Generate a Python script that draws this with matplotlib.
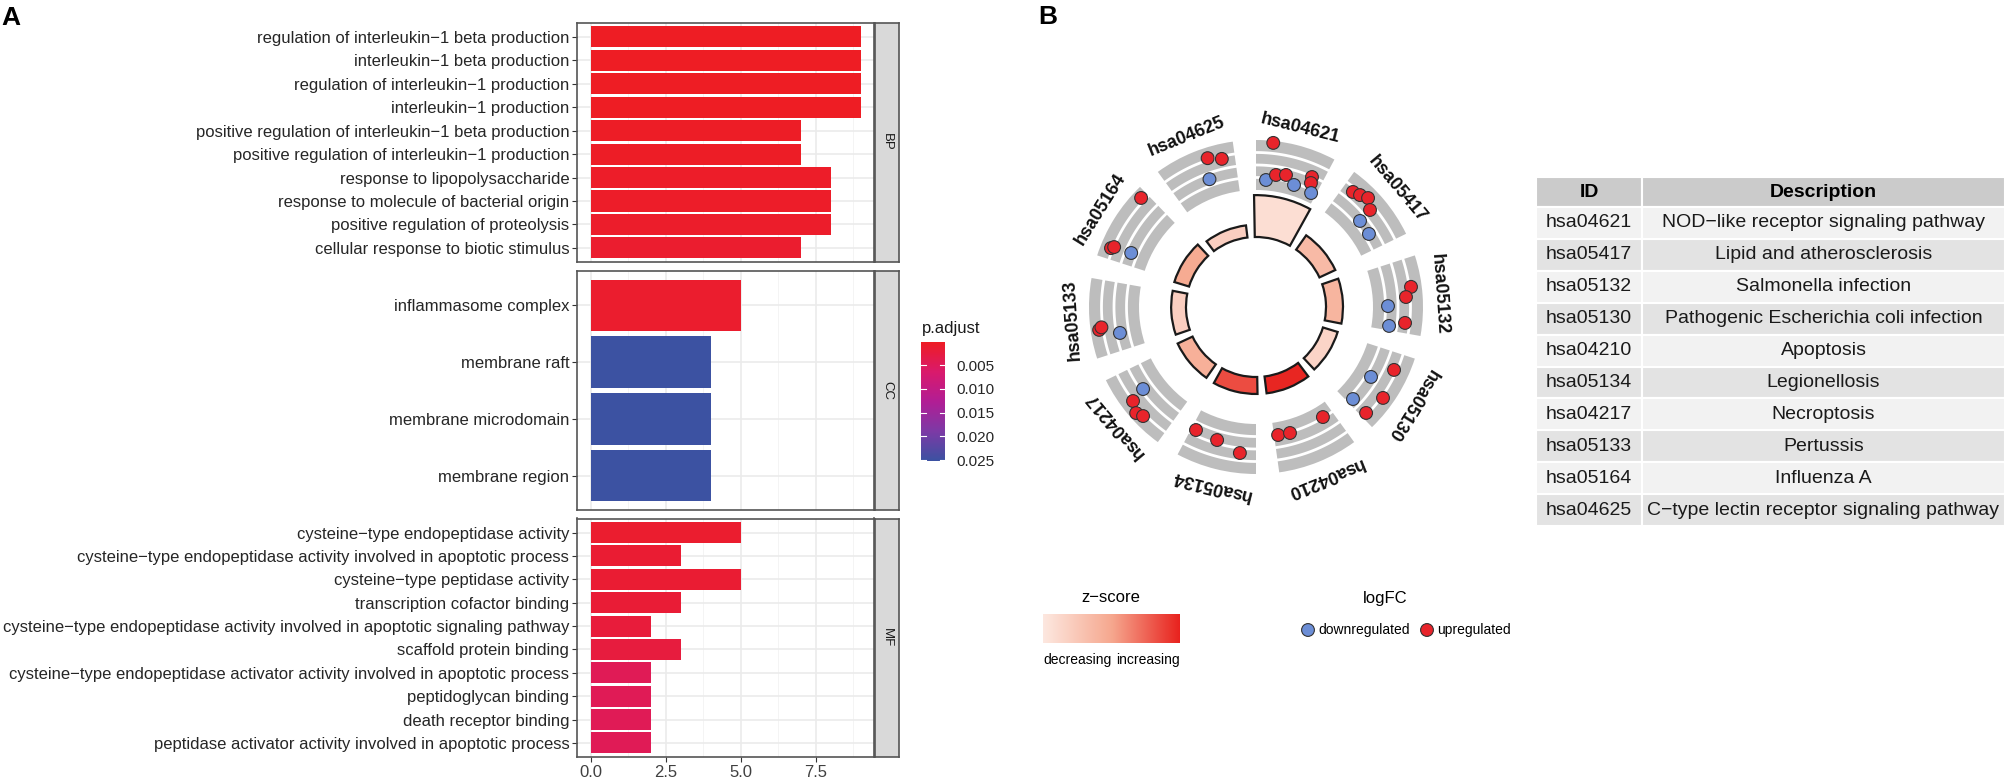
import matplotlib
matplotlib.use('Agg')
import matplotlib.pyplot as plt
import numpy as np
from matplotlib.colors import LinearSegmentedColormap, Normalize
from matplotlib.patches import Rectangle

plt.rcParams['font.family'] = ['Liberation Sans', 'DejaVu Sans']

W, H = 2008, 784  # figure size in pixels (dpi 100)

# ---------------- panel A data (GO enrichment) ----------------
bp_terms = ['regulation of interleukin\u22121 beta production', 'interleukin\u22121 beta production',
            'regulation of interleukin\u22121 production', 'interleukin\u22121 production',
            'positive regulation of interleukin\u22121 beta production',
            'positive regulation of interleukin\u22121 production', 'response to lipopolysaccharide',
            'response to molecule of bacterial origin', 'positive regulation of proteolysis',
            'cellular response to biotic stimulus']
bp_count = [9, 9, 9, 9, 7, 7, 8, 8, 8, 7]
bp_padj = [0.00016, 0.00016, 0.00018, 0.00018, 0.0004, 0.0004, 0.0006, 0.0006, 0.0008, 0.0012]

cc_terms = ['inflammasome complex', 'membrane raft', 'membrane microdomain', 'membrane region']
cc_count = [5, 4, 4, 4]
cc_padj = [0.0011, 0.0252, 0.0252, 0.0252]

mf_terms = ['cysteine\u2212type endopeptidase activity',
            'cysteine\u2212type endopeptidase activity involved in apoptotic process',
            'cysteine\u2212type peptidase activity', 'transcription cofactor binding',
            'cysteine\u2212type endopeptidase activity involved in apoptotic signaling pathway',
            'scaffold protein binding',
            'cysteine\u2212type endopeptidase activator activity involved in apoptotic process',
            'peptidoglycan binding', 'death receptor binding',
            'peptidase activator activity involved in apoptotic process']
mf_count = [5, 3, 5, 3, 2, 3, 2, 2, 2, 2]
mf_padj = [0.0012, 0.0015, 0.0015, 0.0018, 0.0022, 0.0025, 0.0045, 0.0045, 0.0045, 0.0045]

padj_ticks = [0.005, 0.010, 0.015, 0.020, 0.025]

# ---------------- panel B data (KEGG circle) ----------------
kegg_ids = ['hsa04621', 'hsa05417', 'hsa05132', 'hsa05130', 'hsa04210',
            'hsa05134', 'hsa04217', 'hsa05133', 'hsa05164', 'hsa04625']
kegg_desc = ['NOD\u2212like receptor signaling pathway', 'Lipid and atherosclerosis',
             'Salmonella infection', 'Pathogenic Escherichia coli infection', 'Apoptosis',
             'Legionellosis', 'Necroptosis', 'Pertussis', 'Influenza A',
             'C\u2212type lectin receptor signaling pathway']
kegg_logp = [7.9, 3.3, 3.2, 2.9, 3.2, 3.2, 3.1, 2.8, 2.9, 2.3]   # -log10(adj p)
kegg_zscore = [0.60, 0.95, 1.00, 0.70, 1.73, 1.55, 1.05, 0.75, 1.10, 0.75]

# genes per term: angular offset inside the sector (deg) and logFC
gene_offset = [
    [-8, -9.5, -5.4, -1.2, 3.3, 9.3, 9.9, 11.8],
    [-9.9, -7.1, -4.2, -0.4, 0.4, 7.1],
    [3.6, 12.1, -3.4, 0.2, 10.1],
    [-7.5, -0.7, 3.6, 11.5, 11.9],
    [-9.3, 12.2, 6.9],
    [12, 2.3, -7.7],
    [4, 2.6, -1.5, -4],
    [-4.3, -3.5, -6.8],
    [11.5, -9.9, -9.1, -8.6],
    [4, 9, 2],
]
gene_logfc = [
    [4.8, -1.04, 1.65, 1.84, -1.08, 2.45, 1.86, -0.96],
    [3.34, 3.58, 3.93, 3.27, -1.8, -1.75],
    [-1.5, -1.74, 3.93, 3.33, 3.29],
    [3.47, -1.76, 3.92, -1.67, 3.58],
    [1.18, 1.29, 1.35],
    [1.99, 2.16, 2.99],
    [-2.26, 3.78, 4.3, 4.0],
    [4.15, 3.89, -2.15],
    [4.14, 3.95, 3.7, -1.9],
    [3.95, 3.5, -1.9],
]

fig = plt.figure(figsize=(W / 100, H / 100), dpi=100)


def px_axes(x0, y0, x1, y1, **kw):
    # axes placed with pixel coordinates measured from the top-left corner
    return fig.add_axes([x0 / W, 1 - y1 / H, (x1 - x0) / W, (y1 - y0) / H], **kw)


# p.adjust colour scale (red -> blue like ggplot)
pcmap = LinearSegmentedColormap.from_list('padj', ['#EE1D24', '#DA1A6C', '#B21E95', '#7D3AA6', '#3C52A2'])
pnorm = Normalize(vmin=0.00016, vmax=0.0252)

facets = [('BP', bp_terms, bp_count, bp_padj, 22.7, 262),
          ('CC', cc_terms, cc_count, cc_padj, 271, 510),
          ('MF', mf_terms, mf_count, mf_padj, 518.5, 757)]

for k, (name, terms, counts, padj, top, bot) in enumerate(facets):
    ax = px_axes(577, top, 874, bot)
    n = len(terms)
    ypos = np.arange(n)[::-1]
    ax.barh(ypos, counts, height=0.9, color=pcmap(pnorm(padj)), zorder=2)
    ax.set_xlim(-0.45, 9.45)
    ax.set_ylim(-0.6, n - 0.4)
    ax.set_yticks(ypos)
    ax.set_yticklabels(terms, fontsize=12, color='#262626')
    ax.set_xticks([0, 2.5, 5, 7.5])
    ax.set_xticks([1.25, 3.75, 6.25, 8.75], minor=True)
    ax.set_xticklabels(['0.0', '2.5', '5.0', '7.5'], fontsize=12, color='#404040')
    ax.grid(which='major', color='#EBEBEB', lw=1.2, zorder=0)
    ax.grid(which='minor', axis='x', color='#F4F4F4', lw=0.7, zorder=0)
    ax.set_axisbelow(True)
    for s in ax.spines.values():
        s.set_color('#555555')
        s.set_linewidth(1.2)
    ax.tick_params(axis='both', which='major', length=3.5, color='#333333', pad=2)
    ax.tick_params(axis='x', which='minor', length=0)
    if k < 2:
        ax.tick_params(axis='x', which='major', length=0, labelbottom=False)
    # facet strip
    st = px_axes(875, top, 899, bot)
    st.set_facecolor('#D9D9D9')
    st.set_xticks([])
    st.set_yticks([])
    for s in st.spines.values():
        s.set_color('#555555')
        s.set_linewidth(1.2)
    st.text(0.5, 0.5, name, rotation=-90, ha='center', va='center', fontsize=9.5,
            color='#1a1a1a', transform=st.transAxes)

# p.adjust colorbar
cax = px_axes(921, 342, 945, 461)
grad = np.linspace(pnorm.vmin, pnorm.vmax, 256).reshape(-1, 1)
cax.imshow(grad, aspect='auto', cmap=pcmap, norm=pnorm, extent=[0, 1, pnorm.vmax, pnorm.vmin])
cax.set_xlim(0, 1)
cax.set_ylim(pnorm.vmax, pnorm.vmin)
for t in padj_ticks:
    cax.plot([0, 0.2], [t, t], color='white', lw=0.8)
    cax.plot([0.8, 1], [t, t], color='white', lw=0.8)
cax.set_xticks([])
cax.yaxis.tick_right()
cax.set_yticks(padj_ticks)
cax.set_yticklabels(['%.3f' % t for t in padj_ticks], fontsize=11, color='#262626')
cax.tick_params(axis='y', length=0, pad=8)
for s in cax.spines.values():
    s.set_visible(False)
fig.text(922 / W, 1 - 328 / H, 'p.adjust', fontsize=12, va='center', ha='left', color='#1a1a1a')

# ---------------- panel B: GO circle ----------------
cx, cy, R = 1256, 307, 200
pax = px_axes(cx - R, cy - R, cx + R, cy + R, projection='polar')
pax.set_theta_zero_location('N')
pax.set_theta_direction(-1)
pax.set_ylim(0, R)
pax.axis('off')

nterm = len(kegg_ids)
seg = 360 / nterm
theta_c = np.deg2rad(-4 + seg * np.arange(nterm) + seg / 2)

zcmap = LinearSegmentedColormap.from_list('z', ['#FDE8E0', '#F6A88F', '#E8221E'])
znorm = Normalize(vmin=0.5, vmax=1.75)

band_lo, band_hi = 117, 167
half_band = np.deg2rad(14)
pax.bar(theta_c, band_hi - band_lo, width=2 * half_band, bottom=band_lo, color='#BDBDBD',
        edgecolor='none', zorder=1)
for tc in theta_c:
    th = np.linspace(tc - half_band, tc + half_band, 60)
    for rr in [129.5, 142, 154.5]:
        pax.plot(th, np.full_like(th, rr), color='white', lw=2, zorder=2)

pax.bar(theta_c, 5.3 * np.array(kegg_logp), width=np.deg2rad(30), bottom=70,
        color=zcmap(znorm(kegg_zscore)), edgecolor='#1a1a1a', linewidth=1.6, zorder=2)

for i in range(nterm):
    off = np.deg2rad(np.array(gene_offset[i]))
    lfc = np.array(gene_logfc[i])
    cols = np.where(lfc > 0, '#E8242B', '#6C8ED6')
    pax.scatter(theta_c[i] + off, band_lo + 10 * np.abs(lfc), s=85, c=cols,
                edgecolors='#333333', linewidths=0.8, zorder=3)
    pax.text(theta_c[i], 184, kegg_ids[i], rotation=-np.rad2deg(theta_c[i]),
             rotation_mode='anchor', ha='center', va='center', fontsize=13,
             fontweight='bold', color='#111111')

# z-score legend
zax = px_axes(1043, 614, 1180, 643)
zax.imshow(np.linspace(0, 1, 256).reshape(1, -1), aspect='auto',
           cmap=LinearSegmentedColormap.from_list('zl', ['#FDE8E0', '#F6A88F', '#E8221E']))
zax.axis('off')
fig.text(1111 / W, 1 - 598 / H, 'z\u2212score', fontsize=12, ha='center', va='center')
fig.text(1043 / W, 1 - 660 / H, 'decreasing', fontsize=10, ha='left', va='center')
fig.text(1180 / W, 1 - 660 / H, 'increasing', fontsize=10, ha='right', va='center')

# logFC legend
lax = px_axes(1290, 585, 1520, 650)
lax.set_xlim(1290, 1520)
lax.set_ylim(650, 585)
lax.axis('off')
lax.text(1385, 598, 'logFC', fontsize=12, ha='center', va='center')
lax.scatter([1308, 1427], [630, 630], s=85, c=['#6C8ED6', '#E8242B'], edgecolors='#333333', linewidths=0.8)
lax.text(1318, 630, 'downregulated', fontsize=10, ha='left', va='center')
lax.text(1437, 630, 'upregulated', fontsize=10, ha='left', va='center')

# ---------------- table ----------------
tab = px_axes(0, 0, W, H)
tab.set_xlim(0, W)
tab.set_ylim(H, 0)
tab.axis('off')
tx0, tx1, tx2 = 1536, 1642, 2005
ty0, hdr_h, row_h = 177, 30, 31.9
tab.add_patch(Rectangle((tx0, ty0), tx1 - tx0, hdr_h, facecolor='#CBCBCB', edgecolor='white', lw=1.5))
tab.add_patch(Rectangle((tx1, ty0), tx2 - tx1, hdr_h, facecolor='#CBCBCB', edgecolor='white', lw=1.5))
tab.text((tx0 + tx1) / 2, ty0 + hdr_h / 2, 'ID', fontsize=14, fontweight='bold', ha='center', va='center')
tab.text((tx1 + tx2) / 2, ty0 + hdr_h / 2, 'Description', fontsize=14, fontweight='bold',
         ha='center', va='center')
for i, (kid, desc) in enumerate(zip(kegg_ids, kegg_desc)):
    y = ty0 + hdr_h + i * row_h
    fc = '#F2F2F2' if i % 2 == 0 else '#E3E3E3'
    tab.add_patch(Rectangle((tx0, y), tx1 - tx0, row_h, facecolor=fc, edgecolor='white', lw=1.5))
    tab.add_patch(Rectangle((tx1, y), tx2 - tx1, row_h, facecolor=fc, edgecolor='white', lw=1.5))
    tab.text((tx0 + tx1) / 2, y + row_h / 2, kid, fontsize=14, ha='center', va='center', color='#1a1a1a')
    tab.text((tx1 + tx2) / 2, y + row_h / 2, desc, fontsize=14, ha='center', va='center', color='#1a1a1a')

# panel letters
fig.text(1 / W, 1 - 25 / H, 'A', fontsize=19, fontweight='bold', ha='left', va='baseline')
fig.text(1038 / W, 1 - 24 / H, 'B', fontsize=19, fontweight='bold', ha='left', va='baseline')

fig.savefig('out.png', dpi=100)
